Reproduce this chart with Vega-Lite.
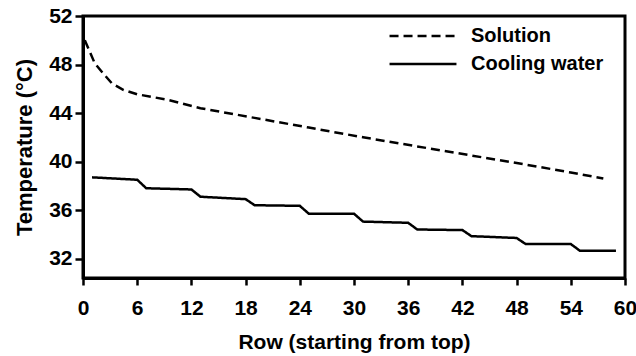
{
  "$schema": "https://vega.github.io/schema/vega-lite/v6.json",
  "width": 542,
  "height": 262,
  "autosize": "none",
  "padding": {"left": 83, "top": 16, "right": 11, "bottom": 78},
  "background": "white",
  "config": {
    "font": "Liberation Sans",
    "view": {"stroke": "black", "strokeWidth": 3},
    "axis": {"grid": false, "domainColor": "black", "domainWidth": 3, "tickColor": "black", "tickWidth": 2.5, "labelColor": "black", "titleColor": "black", "labelFont": "Liberation Sans", "titleFont": "Liberation Sans", "labelFontWeight": "bold", "titleFontWeight": "bold"}
  },
  "data": {
    "values": [
      {"row": 0.2, "temp": 50.0, "series": "Solution"},
      {"row": 1.3, "temp": 48.1, "series": "Solution"},
      {"row": 2.2, "temp": 47.3, "series": "Solution"},
      {"row": 3.2, "temp": 46.45, "series": "Solution"},
      {"row": 4.5, "temp": 45.9, "series": "Solution"},
      {"row": 6, "temp": 45.55, "series": "Solution"},
      {"row": 9.3, "temp": 45.1, "series": "Solution"},
      {"row": 13, "temp": 44.4, "series": "Solution"},
      {"row": 19, "temp": 43.6, "series": "Solution"},
      {"row": 25, "temp": 42.8, "series": "Solution"},
      {"row": 31, "temp": 42.0, "series": "Solution"},
      {"row": 37, "temp": 41.25, "series": "Solution"},
      {"row": 43, "temp": 40.5, "series": "Solution"},
      {"row": 49, "temp": 39.75, "series": "Solution"},
      {"row": 54, "temp": 39.1, "series": "Solution"},
      {"row": 57.6, "temp": 38.6, "series": "Solution"},
      {"row": 1, "temp": 38.7, "series": "Cooling water"},
      {"row": 6, "temp": 38.5, "series": "Cooling water"},
      {"row": 7, "temp": 37.8, "series": "Cooling water"},
      {"row": 12, "temp": 37.7, "series": "Cooling water"},
      {"row": 13, "temp": 37.1, "series": "Cooling water"},
      {"row": 18, "temp": 36.9, "series": "Cooling water"},
      {"row": 19, "temp": 36.4, "series": "Cooling water"},
      {"row": 24, "temp": 36.35, "series": "Cooling water"},
      {"row": 25, "temp": 35.7, "series": "Cooling water"},
      {"row": 30, "temp": 35.7, "series": "Cooling water"},
      {"row": 31, "temp": 35.05, "series": "Cooling water"},
      {"row": 36, "temp": 34.95, "series": "Cooling water"},
      {"row": 37, "temp": 34.4, "series": "Cooling water"},
      {"row": 42, "temp": 34.35, "series": "Cooling water"},
      {"row": 43, "temp": 33.85, "series": "Cooling water"},
      {"row": 48, "temp": 33.7, "series": "Cooling water"},
      {"row": 49, "temp": 33.2, "series": "Cooling water"},
      {"row": 54, "temp": 33.2, "series": "Cooling water"},
      {"row": 55, "temp": 32.65, "series": "Cooling water"},
      {"row": 59, "temp": 32.65, "series": "Cooling water"}
    ]
  },
  "mark": {"type": "line", "color": "black", "strokeWidth": 2.5},
  "encoding": {
    "x": {
      "field": "row", "type": "quantitative",
      "scale": {"domain": [0, 60], "nice": false},
      "axis": {"values": [0, 6, 12, 18, 24, 30, 36, 42, 48, 54, 60], "title": "Row (starting from top)", "labelFontSize": 21, "titleFontSize": 21, "tickSize": 7, "labelPadding": 12, "titlePadding": 13, "labelFlush": false}
    },
    "y": {
      "field": "temp", "type": "quantitative",
      "scale": {"domain": [30.4, 52], "nice": false, "zero": false},
      "axis": {"values": [32, 36, 40, 44, 48, 52], "title": "Temperature (°C)", "labelFontSize": 21, "titleFontSize": 22, "tickSize": 8, "labelPadding": 3, "titlePadding": 12, "labelFlush": false}
    },
    "strokeDash": {
      "field": "series", "type": "nominal",
      "scale": {"domain": ["Solution", "Cooling water"], "range": [[9, 5], [1, 0]]},
      "legend": {"title": null, "orient": "none", "legendX": 330, "legendY": 10, "padding": 0, "symbolType": "M-4,0H4", "symbolSize": 280, "symbolStrokeWidth": 2.5, "symbolStrokeColor": "black", "symbolFillColor": "transparent", "labelFontSize": 20, "labelFontWeight": "bold", "labelColor": "black", "labelOffset": 38, "rowPadding": 8}
    },
    "order": {"field": "row", "type": "quantitative"}
  }
}
